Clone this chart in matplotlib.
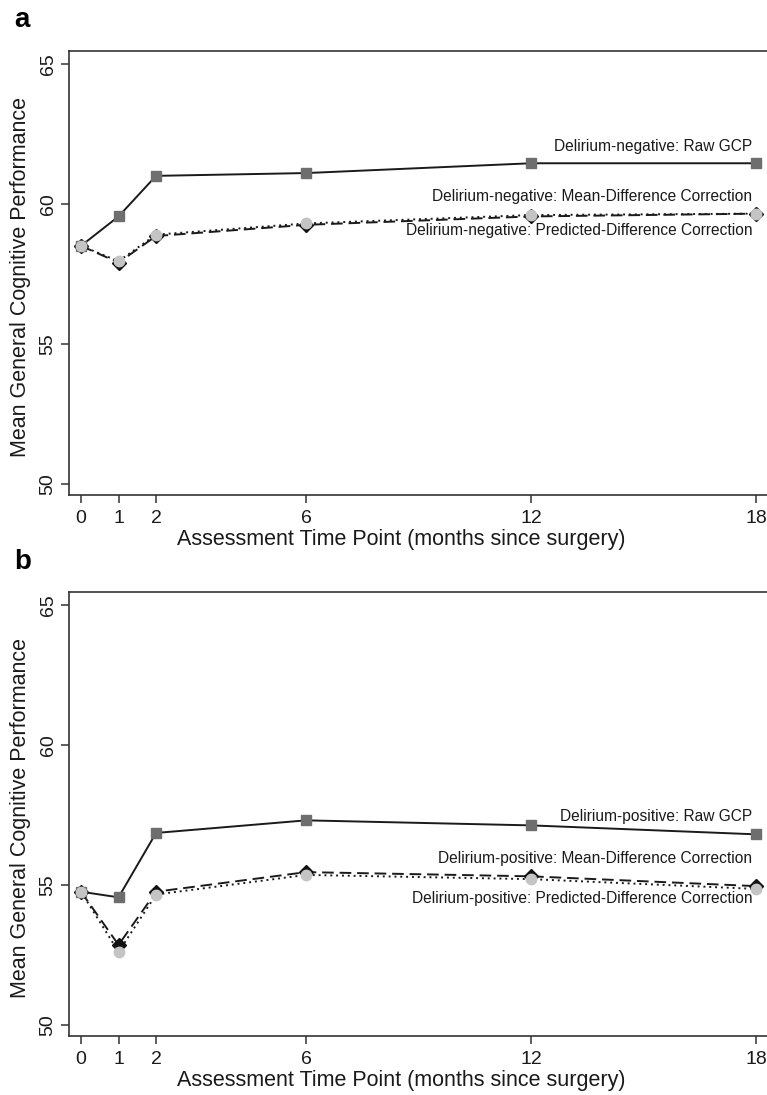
import matplotlib.pyplot as plt
import matplotlib

matplotlib.rcParams['font.family'] = ['Liberation Sans', 'DejaVu Sans']

MONTHS = [0, 1, 2, 6, 12, 18]

NEG_RAW = [58.5, 59.55, 61.0, 61.1, 61.45, 61.45]
NEG_MEAN = [58.5, 57.9, 58.85, 59.25, 59.55, 59.65]
NEG_PRED = [58.5, 57.95, 58.9, 59.3, 59.6, 59.65]

POS_RAW = [54.75, 54.55, 56.85, 57.3, 57.12, 56.8]
POS_MEAN = [54.75, 52.85, 54.75, 55.45, 55.3, 54.95]
POS_PRED = [54.75, 52.6, 54.65, 55.35, 55.2, 54.85]

NEG_LABELS = ['Delirium-negative: Raw GCP',
              'Delirium-negative: Mean-Difference Correction',
              'Delirium-negative: Predicted-Difference Correction']
POS_LABELS = ['Delirium-positive: Raw GCP',
              'Delirium-positive: Mean-Difference Correction',
              'Delirium-positive: Predicted-Difference Correction']

# y positions (data units) of the inline labels
NEG_LABEL_Y = [62.05, 60.25, 59.05]
POS_LABEL_Y = [57.45, 55.95, 54.5]

Y_TICKS = [50, 55, 60, 65]
X_LABEL = 'Assessment Time Point (months since surgery)'
Y_LABEL = 'Mean General Cognitive Performance'

AX_COLOR = '#333333'


def draw_panel(ax, raw, mean, pred, labels, label_y):
    ax.plot(MONTHS, raw, color='#1a1a1a', lw=1.4, marker='s', ms=7.5,
            mfc='#6e6e6e', mec='#6e6e6e', zorder=3)
    ax.plot(MONTHS, mean, color='#1a1a1a', lw=1.4, ls=(0, (6, 3)),
            marker='D', ms=7, mfc='#111111', mec='#111111', zorder=4)
    ax.plot(MONTHS, pred, color='#1a1a1a', lw=1.4, ls=(0, (1, 2)),
            marker='o', ms=7.5, mfc='#c4c4c4', mec='#c4c4c4', zorder=5)

    for txt, y in zip(labels, label_y):
        ax.text(17.9, y, txt, ha='right', va='center', fontsize=11.2,
                color='#1a1a1a')

    ax.set_xlim(-0.32, 18.29)
    ax.set_ylim(49.6, 65.46)
    ax.set_xticks(MONTHS)
    ax.set_yticks(Y_TICKS)
    ax.set_yticklabels([str(v) for v in Y_TICKS], rotation=90, va='center')
    ax.tick_params(axis='both', direction='out', length=6, width=1.1,
                   colors=AX_COLOR, labelsize=14, labelcolor='#1a1a1a', pad=3)
    ax.tick_params(axis='x', pad=5)
    ax.set_xlabel(X_LABEL, fontsize=15.5, color='#1a1a1a')
    ax.set_ylabel(Y_LABEL, fontsize=15.5, color='#1a1a1a')
    ax.xaxis.set_label_coords(0.476, -0.077)
    ax.yaxis.set_label_coords(-0.054, 0.49)
    ax.spines['right'].set_visible(False)
    for sp in ('left', 'top', 'bottom'):
        ax.spines[sp].set_color(AX_COLOR)
        ax.spines[sp].set_linewidth(1.2)


def main():
    fig = plt.figure(figsize=(7.67, 10.95), dpi=100)
    fig.patch.set_facecolor('white')

    ax_a = fig.add_axes([0.09, 0.548, 0.91, 0.4054])
    ax_b = fig.add_axes([0.09, 0.054, 0.91, 0.4054])

    draw_panel(ax_a, NEG_RAW, NEG_MEAN, NEG_PRED, NEG_LABELS, NEG_LABEL_Y)
    draw_panel(ax_b, POS_RAW, POS_MEAN, POS_PRED, POS_LABELS, POS_LABEL_Y)

    fig.text(0.029, 0.982, 'a', fontsize=20, fontweight='bold',
             ha='center', va='center')
    fig.text(0.029, 0.487, 'b', fontsize=20, fontweight='bold',
             ha='center', va='center')

    fig.savefig('out.png', dpi=100, facecolor='white')


if __name__ == '__main__':
    main()
